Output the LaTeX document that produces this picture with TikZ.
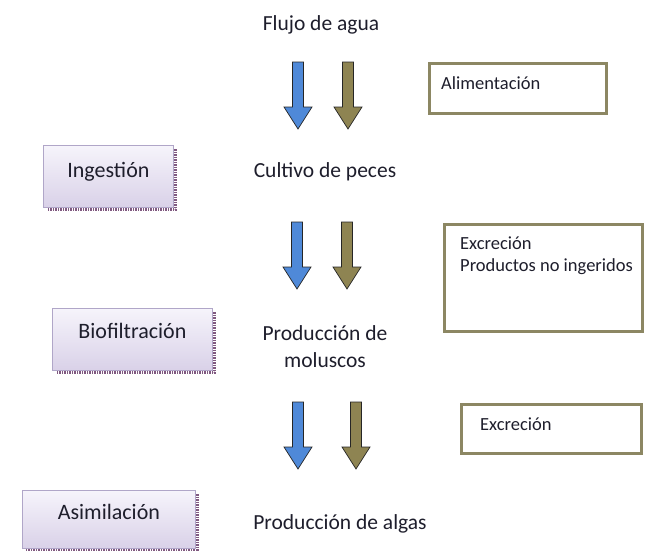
\documentclass[tikz,border=0pt]{standalone}
\usepackage{fontspec}
\setmainfont{Carlito}

\definecolor{flowblue}{HTML}{4F89D8}
\definecolor{flowbrown}{HTML}{8E8452}
\definecolor{boxolive}{HTML}{8C8763}
\definecolor{lavtop}{HTML}{F6F4FB}
\definecolor{lavbot}{HTML}{D9D1E8}
\definecolor{lavedge}{HTML}{B0A6C8}
\definecolor{inktext}{HTML}{1E1E2C}

\begin{document}
\begin{tikzpicture}[x=1pt,y=-1pt]

\tikzset{
  maintext/.style={font=\fontsize{21.5}{27}\selectfont, text=inktext, inner sep=0},
  smalltext/.style={font=\fontsize{18.5}{22}\selectfont, text=inktext, inner sep=0, align=left},
  lavbox/.style={draw=lavedge, line width=0.8pt, top color=lavtop, bottom color=lavbot,
    inner sep=0, font=\fontsize{22}{26}\selectfont, text=inktext, anchor=north west},
  olivebox/.style={draw=boxolive, line width=2.8pt, fill=white, inner sep=0, anchor=north west},
  shadowline/.style={draw=gray!70!violet, line width=3pt, dash pattern=on 1.5pt off 1pt},
  flowarrow/.style={draw=black!85, line width=0.7pt, line join=miter},
}

\useasboundingbox (0,0) rectangle (646,550);

%% Flow
\node[maintext, anchor=base] (flujo) at (321,30) {Flujo de agua};
\node[maintext, anchor=base] (cultivo) at (325,177) {Cultivo de peces};
\node[maintext, align=center] (moluscos) at (325,347) {Producción de\\moluscos};
\node[maintext, anchor=base] (algas) at (340,529) {Producción de algas};

\foreach \cx/\ty/\col in {298/62/flowblue,348/62/flowbrown,297/222/flowblue,347/222/flowbrown,298/402/flowblue,356/402/flowbrown}{
    \filldraw[flowarrow, fill=\col] (\cx-5.5,\ty) -- (\cx+5.5,\ty) -- (\cx+5.5,\ty+45)
        -- (\cx+14,\ty+45) -- (\cx,\ty+67) -- (\cx-14,\ty+45) -- (\cx-5.5,\ty+45) -- cycle;
}

%% Processes
\node[lavbox, minimum width=130, text height=32pt, text depth=30pt] (ingestion) at (43,145) {Ingestión};
\node[lavbox, minimum width=160, text height=30pt, text depth=32pt] (biofiltracion) at (52,308) {Biofiltración};
\node[lavbox, minimum width=173, text height=29pt, text depth=29pt] (asimilacion) at (22,490) {Asimilación};

\foreach \b in {ingestion,biofiltracion,asimilacion}{
    \draw[shadowline] ([xshift=2pt,yshift=-4pt]\b.north east) -- ([xshift=2pt,yshift=-2pt]\b.south east)
        -- ([xshift=4pt,yshift=-2pt]\b.south west);
}

%% Inputs
\node[olivebox, minimum width=177, minimum height=50] (alimentacion) at (428,62) {};
\node[smalltext, anchor=base west] (alimentaciontxt) at (441,89) {Alimentación};

\node[olivebox, minimum width=198, minimum height=107] (productos) at (443,223) {};
\node[smalltext, anchor=north west] (productostxt) at (460,237) {Excreción\\Productos no ingeridos};

\node[olivebox, minimum width=180, minimum height=49] (excrecion) at (460,403) {};
\node[smalltext, anchor=base west] (excreciontxt) at (480,430) {Excreción};

\end{tikzpicture}
\end{document}
